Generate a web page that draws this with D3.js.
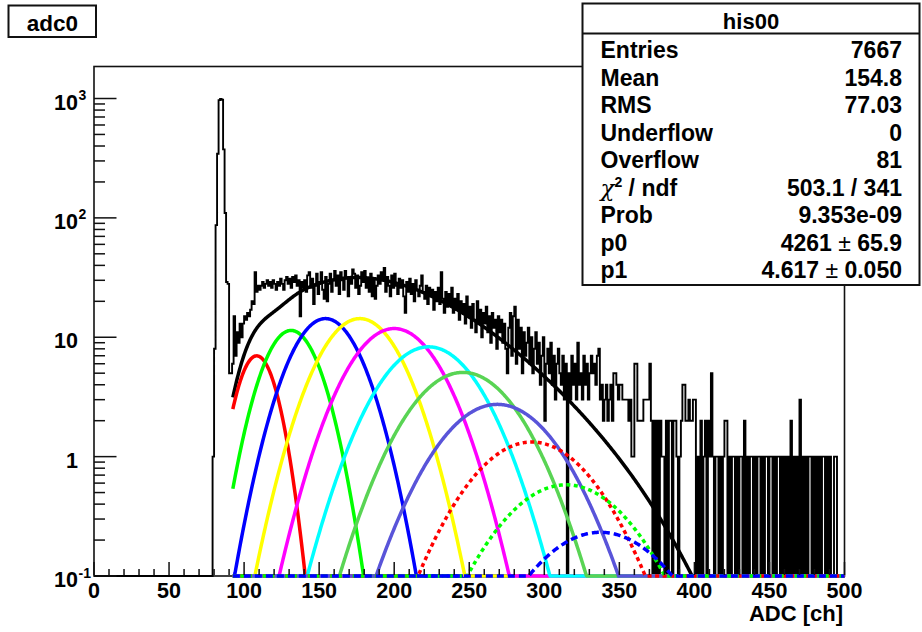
<!DOCTYPE html>
<html>
<head>
<meta charset="utf-8">
<script src="https://cdn.jsdelivr.net/npm/d3@7"></script>
<style>
  html, body { margin: 0; padding: 0; background: #fff; }
  text { font-family: "Liberation Sans", Arial, Helvetica, sans-serif; font-weight: bold; fill: #000; }
</style>
</head>
<body>
<svg id="chart" width="922" height="632"></svg>
<script>
// ---- histogram "adc0": counts per 1-channel bin, first bin = channel 70 ----
const firstBin = 70;
const binCounts = [
  0,0,0,0,0,0,0,0,0,1,
  8,87,345,970,990,975,375,110,29,28,
  5,5,6,15,7,11,9,13,10,13,
  15,14,16,15,17,20,19,35,24,27,
  25,27,29,26,28,30,27,29,26,30,
  28,25,29,27,31,28,25,30,32,28,
  31,26,32,29,33,27,30,15,29,26,
  30,24,33,35,26,31,19,27,34,23,
  29,35,25,21,32,20,28,34,24,30,
  36,27,33,23,35,30,25,36,31,22,
  32,28,37,34,26,33,23,27,35,29,
  36,26,31,24,34,22,30,21,27,33,
  28,35,30,38,24,32,27,22,33,26,
  34,27,23,31,26,30,22,16,29,24,
  31,23,28,20,30,25,22,27,33,24,
  21,27,19,26,22,25,17,24,20,26,
  19,35,21,16,24,18,23,19,26,16,
  21,17,23,14,20,16,19,13,22,15,
  18,12,19,14,11,20,13,17,10,16,
  13,18,11,15,9,16,12,14,8,15,
  11,14,9,13,8,5,12,16,7,15,
  18,6,14,8,12,5,11,7,9,12,
  6,10,5,8,11,6,9,4,7,10,
  2,6,8,5,9,4,7,3,6,8,
  5,4,7,3,6,0,5,3,7,4,
  6,3,9,4,5,3,7,4,6,3,
  5,7,5,6,4,7,8,3,4,2,
  3,4,2,3,4,2,5,5,4,3,
  4,4,3,3,3,3,2,3,1,1,
  6,6,2,2,2,2,3,3,3,3,
  6,2,0,2,0,2,0,2,1,1,
  0,2,0,2,2,0,2,2,1,0,
  1,2,4,4,2,2,3,2,2,3,
  3,0,1,0,2,0,1,2,0,2,
  1,5,1,0,1,1,0,1,0,1,
  2,2,0,1,0,1,1,0,1,0,
  1,1,0,2,0,1,0,1,1,0,
  1,0,1,1,0,1,0,1,1,0,
  1,1,0,1,0,1,1,0,1,0,
  1,0,1,0,2,0,1,0,1,0,
  3,0,1,0,1,0,1,1,0,1,
  0,1,0,1,0,1,1,0,1,0,
  1,0,0,1,1,0,0,0,0,0
];

// ---- fit: Poisson-weighted sum of photoelectron Gaussians ----
const fitP0 = 4261;        // normalisation (stats box)
const fitP1 = 4.617;       // mean number of photoelectrons (stats box)
const pedestal = 85.5;     // fixed pedestal position [ch]
const gain = 22.9;         // fixed single-p.e. gain [ch]
const peSigma = 11.1;      // fixed single-p.e. width [ch]
const fitRange = [92.5, 500];
const peNumbers = [1, 2, 3, 4, 5, 6, 7, 8, 9, 10, 11];
const peColors  = ["#ff0000", "#00ff00", "#0000ff", "#ffff00", "#ff00ff", "#00ffff",
                   "#59d454", "#5954d9", "#ff0000", "#00ff00", "#0000ff"];
const peDashes  = [null, null, null, null, null, null, null, null, "4,3.5", "4,3.5", "7,4"];

// ---- axes ----
const xDomain = [0, 500];
const xMajorTicks = [0, 50, 100, 150, 200, 250, 300, 350, 400, 450, 500];
const yMin = 0.1, yMax = 1854;
const yDecades = [-1, 0, 1, 2, 3];
const xTitle = "ADC [ch]";
const histTitle = "adc0";

// ---- statistics box ----
const statsName = "his00";
const statsLabels = ["Entries", "Mean", "RMS", "Underflow", "Overflow", "chi2", "Prob", "p0", "p1"];
const statsValues = ["7667", "154.8", "77.03", "0", "81", "503.1 / 341", "9.353e-09", ["4261", "65.9"], ["4.617", "0.050"]];

// =====================================================================
const svg = d3.select("#chart");
const F = { left: 94, right: 844.5, top: 66.5, bottom: 576 };

const x = d3.scaleLinear().domain(xDomain).range([F.left, F.right]);
const y = d3.scaleLog().domain([yMin, yMax]).range([F.bottom, F.top]);
const yc = v => y(Math.max(v, yMin));

svg.append("defs").append("clipPath").attr("id", "frameClip")
  .append("rect").attr("x", F.left).attr("y", F.top)
  .attr("width", F.right - F.left + 1).attr("height", F.bottom - F.top + 2);

// ---- frame (drawn first, marks go on top) ----
svg.append("rect").attr("x", F.left).attr("y", F.top)
  .attr("width", F.right - F.left).attr("height", F.bottom - F.top)
  .attr("fill", "none").attr("stroke", "#111").attr("stroke-width", 1.6);

const plot = svg.append("g").attr("clip-path", "url(#frameClip)");

// histogram as a step outline
const histPts = [[xDomain[0], 0]].concat(binCounts.map((c, i) => [firstBin + i, c]));
histPts.push([firstBin + binCounts.length, binCounts[binCounts.length - 1]]);
const step = d3.line().x(d => x(d[0])).y(d => yc(d[1])).curve(d3.curveStepAfter);
plot.append("path").attr("d", step(histPts))
  .attr("fill", "none").attr("stroke", "#000").attr("stroke-width", 1.9);

// fit model
function poisson(n, mu) {
  let p = Math.exp(-mu);
  for (let k = 1; k <= n; k++) p *= mu / k;
  return p;
}
function peTerm(n, xv) {
  const s2 = n * peSigma * peSigma;
  const d = xv - pedestal - n * gain;
  return fitP0 * poisson(n, fitP1) / Math.sqrt(2 * Math.PI * s2) * Math.exp(-d * d / (2 * s2));
}
const xs = d3.range(fitRange[0], fitRange[1] + 0.001, 0.5);
const curve = d3.line().x(d => x(d[0])).y(d => yc(d[1]));

// total fit
plot.append("path")
  .attr("d", curve(xs.map(v => [v, d3.sum(peNumbers, n => peTerm(n, v))])))
  .attr("fill", "none").attr("stroke", "#000").attr("stroke-width", 3.5);

// single components
peNumbers.forEach((n, i) => {
  plot.append("path")
    .attr("d", curve(xs.map(v => [v, peTerm(n, v)])))
    .attr("fill", "none").attr("stroke", peColors[i]).attr("stroke-width", 3.5)
    .attr("stroke-dasharray", peDashes[i]);
});

// x ticks (inside, pointing up)
const axisG = svg.append("g").attr("stroke", "#111").attr("stroke-width", 1.5);
d3.range(xDomain[0], xDomain[1] + 0.001, 10).forEach(v => {
  const major = v % 50 === 0;
  axisG.append("line").attr("x1", x(v)).attr("x2", x(v))
    .attr("y1", F.bottom - 1).attr("y2", F.bottom - (major ? 14 : 7));
});
xMajorTicks.forEach(v => {
  svg.append("text").attr("x", x(v)).attr("y", 597.5).attr("text-anchor", "middle")
    .attr("font-size", 21.5).text(v);
});

// y ticks (log)
yDecades.forEach(k => {
  const base = Math.pow(10, k);
  axisG.append("line").attr("x1", F.left).attr("x2", F.left + 22.5)
    .attr("y1", y(base)).attr("y2", y(base));
  for (let m = 2; m <= 9; m++) {
    const v = m * base;
    if (v > yMax) break;
    axisG.append("line").attr("x1", F.left).attr("x2", F.left + 11)
      .attr("y1", y(v)).attr("y2", y(v));
  }
  const ty = y(base) + 11;
  if (k === 0 || k === 1) {
    svg.append("text").attr("x", 78).attr("y", ty).attr("text-anchor", "end")
      .attr("font-size", 21.5).text(k === 0 ? "1" : "10");
  } else {
    svg.append("text").attr("x", 78).attr("y", ty).attr("text-anchor", "end")
      .attr("font-size", 21.5).text("10");
    svg.append("text").attr("x", 78.5).attr("y", ty - 9.5).attr("text-anchor", "start")
      .attr("font-size", 14).text(String(k));
  }
});

// x-axis title
svg.append("text").attr("x", 843).attr("y", 620.5).attr("text-anchor", "end")
  .attr("font-size", 22).text(xTitle);

// ---- title box ----
svg.append("rect").attr("x", 8.5).attr("y", 5.5).attr("width", 87.5).attr("height", 31.5)
  .attr("fill", "#fff").attr("stroke", "#111").attr("stroke-width", 2);
svg.append("text").attr("x", 52.5).attr("y", 30.5).attr("text-anchor", "middle")
  .attr("font-size", 22.5).text(histTitle);

// ---- stats box ----
const S = { left: 582.5, right: 919.5, top: 3.5, bottom: 285, split: 33.5 };
svg.append("rect").attr("x", S.left).attr("y", S.top)
  .attr("width", S.right - S.left).attr("height", S.bottom - S.top)
  .attr("fill", "#fff").attr("stroke", "#111").attr("stroke-width", 2);
svg.append("line").attr("x1", S.left).attr("x2", S.right)
  .attr("y1", S.split).attr("y2", S.split).attr("stroke", "#111").attr("stroke-width", 2);
svg.append("text").attr("x", (S.left + S.right) / 2).attr("y", 28.5)
  .attr("text-anchor", "middle").attr("font-size", 22).text(statsName);

statsLabels.forEach((lab, i) => {
  const by = 58.3 + 27.5 * i;
  const t = svg.append("text").attr("x", 600.5).attr("y", by).attr("font-size", 23);
  if (lab === "chi2") {
    t.append("tspan").attr("font-family", "'DejaVu Serif', serif").attr("font-weight", "normal")
      .attr("font-style", "italic").text("\u03c7");
    t.append("tspan").attr("font-size", 14).attr("dy", -9).text("2");
    t.append("tspan").attr("dy", 9).text(" / ndf");
  } else {
    t.text(lab);
  }
  const val = statsValues[i];
  const v = svg.append("text").attr("x", 902).attr("y", by).attr("text-anchor", "end")
    .attr("font-size", 23);
  if (Array.isArray(val)) {
    v.append("tspan").text(val[0] + " ");
    v.append("tspan").attr("font-weight", "normal").text("\u00b1");
    v.append("tspan").text(" " + val[1]);
  } else {
    v.text(val);
  }
});
</script>
</body>
</html>
